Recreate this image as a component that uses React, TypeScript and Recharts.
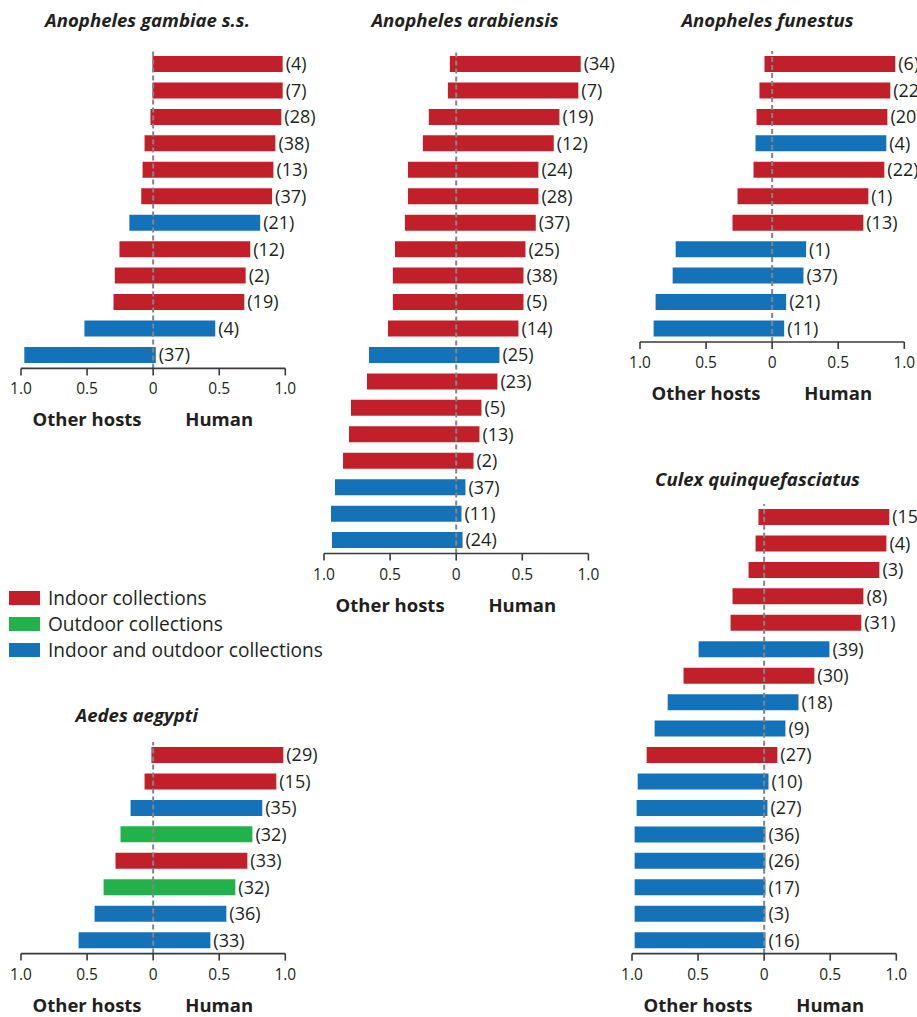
import React from 'react';
import { BarChart, Bar, XAxis, YAxis, Cell, LabelList, ReferenceLine, Label } from 'recharts';

const COLORS: Record<string, string> = { I: '#C1202A', O: '#22B24C', B: '#1472B9' };
const TEXT = '#231F20';
const FONT = '"Open Sans", "Noto Sans", sans-serif';

const AXIS_TICKS = [-1, -0.5, 0, 0.5, 1];

// Anopheles gambiae s.s.
const gambiaeHuman = [0.98, 0.98, 0.97, 0.925, 0.91, 0.9, 0.81, 0.735, 0.7, 0.69, 0.47, 0.02];
const gambiaeOther = [0.005, 0.005, 0.02, 0.065, 0.08, 0.09, 0.18, 0.255, 0.29, 0.3, 0.52, 0.975];
const gambiaeN = [4, 7, 28, 38, 13, 37, 21, 12, 2, 19, 4, 37];
const gambiaeType = ['I', 'I', 'I', 'I', 'I', 'I', 'B', 'I', 'I', 'I', 'B', 'B'];

// Anopheles arabiensis
const arabHuman = [0.942, 0.924, 0.781, 0.738, 0.622, 0.622, 0.602, 0.524, 0.509, 0.509, 0.471, 0.327, 0.312, 0.191, 0.176, 0.131, 0.07, 0.04, 0.048];
const arabOther = [0.048, 0.063, 0.207, 0.252, 0.365, 0.365, 0.388, 0.463, 0.479, 0.479, 0.516, 0.66, 0.675, 0.796, 0.811, 0.856, 0.917, 0.947, 0.94];
const arabN = [34, 7, 19, 12, 24, 28, 37, 25, 38, 5, 14, 25, 23, 5, 13, 2, 37, 11, 24];
const arabType = ['I', 'I', 'I', 'I', 'I', 'I', 'I', 'I', 'I', 'I', 'I', 'B', 'I', 'I', 'I', 'I', 'B', 'B', 'B'];

// Anopheles funestus
const funHuman = [0.932, 0.894, 0.872, 0.864, 0.849, 0.728, 0.69, 0.257, 0.237, 0.106, 0.091];
const funOther = [0.058, 0.096, 0.118, 0.126, 0.141, 0.262, 0.3, 0.73, 0.753, 0.882, 0.897];
const funN = [6, 22, 20, 4, 22, 1, 13, 1, 37, 21, 11];
const funType = ['I', 'I', 'I', 'B', 'I', 'I', 'I', 'B', 'B', 'B', 'B'];

// Culex quinquefasciatus
const culexHuman = [0.947, 0.925, 0.872, 0.751, 0.735, 0.494, 0.38, 0.26, 0.161, 0.1, 0.033, 0.025, 0.01, 0.01, 0.01, 0.01, 0.01];
const culexOther = [0.043, 0.065, 0.118, 0.239, 0.254, 0.496, 0.61, 0.73, 0.829, 0.889, 0.957, 0.965, 0.98, 0.98, 0.98, 0.98, 0.98];
const culexN = [15, 4, 3, 8, 31, 39, 30, 18, 9, 27, 10, 27, 36, 26, 17, 3, 16];
const culexType = ['I', 'I', 'I', 'I', 'I', 'B', 'I', 'B', 'B', 'I', 'B', 'B', 'B', 'B', 'B', 'B', 'B'];

// Aedes aegypti
const aedesHuman = [0.985, 0.932, 0.826, 0.751, 0.713, 0.622, 0.554, 0.433];
const aedesOther = [0.013, 0.065, 0.171, 0.247, 0.285, 0.375, 0.443, 0.564];
const aedesN = [29, 15, 35, 32, 33, 32, 36, 33];
const aedesType = ['I', 'I', 'B', 'O', 'I', 'O', 'B', 'B'];

const legendItems = [
  { key: 'I', label: 'Indoor collections' },
  { key: 'O', label: 'Outdoor collections' },
  { key: 'B', label: 'Indoor and outdoor collections' },
];

const STEP = 26.45;

const AxisTitles = (props: any) => {
  const vb = props.viewBox || {};
  const x = vb.x ?? 0;
  const y = vb.y ?? 0;
  const w = vb.width ?? 0;
  const style = { fontFamily: FONT, fontWeight: 700, fontSize: 18.5, fill: TEXT };
  return (
    <g>
      <text x={x + w * 0.25} y={y + 58} textAnchor="middle" style={style}>Other hosts</text>
      <text x={x + w * 0.75} y={y + 58} textAnchor="middle" style={style}>Human</text>
    </g>
  );
};

type PanelProps = {
  title: string;
  human: number[];
  other: number[];
  counts: number[];
  types: string[];
  axisLeft: number;
  axisRight: number;
  firstCenter: number;
  titleX: number;
  titleY: number;
};

function Panel({ title, human, other, counts, types, axisLeft, axisRight, firstCenter, titleX, titleY }: PanelProps) {
  const n = human.length;
  const plotTop = firstCenter - STEP / 2;
  const plotH = n * STEP;
  const mL = 20, mR = 48, mT = 10, axH = 72;
  const plotW = axisRight - axisLeft;
  const width = plotW + mL + mR;
  const height = plotH + mT + axH;
  const data = human.map((h, i) => ({ name: `r${i}`, range: [-other[i], h], n: counts[i], t: types[i] }));
  return (
    <>
      <div
        style={{
          position: 'absolute',
          left: titleX - 160,
          width: 320,
          top: titleY - 12,
          height: 24,
          lineHeight: '24px',
          textAlign: 'center',
          fontFamily: FONT,
          fontWeight: 700,
          fontStyle: 'italic',
          fontSize: 18.6,
          color: TEXT,
          whiteSpace: 'nowrap',
        }}
      >
        {title}
      </div>
      <div style={{ position: 'absolute', left: axisLeft - mL, top: plotTop - mT }}>
        <BarChart
          width={width}
          height={height}
          data={data}
          layout="vertical"
          margin={{ top: mT, right: mR, bottom: 0, left: mL }}
        >
          <XAxis
            type="number"
            domain={[-1, 1]}
            ticks={AXIS_TICKS}
            tickFormatter={(v: number) => (v === 0 ? '0' : Math.abs(v).toFixed(1))}
            height={axH}
            tickSize={7}
            tickMargin={8}
            stroke={TEXT}
            axisLine={{ stroke: '#3a3a3a', strokeWidth: 1.6 }}
            tickLine={{ stroke: '#3a3a3a', strokeWidth: 1.6 }}
            tick={{ fill: TEXT, fontSize: 15.5, fontFamily: FONT }}
            interval={0}
          >
            <Label content={AxisTitles} />
          </XAxis>
          <YAxis type="category" dataKey="name" hide />
          <Bar dataKey="range" barSize={16} isAnimationActive={false}>
            {data.map((d, i) => (
              <Cell key={i} fill={COLORS[d.t]} />
            ))}
            <LabelList
              dataKey="n"
              position="right"
              offset={3}
              formatter={(v: any) => `(${v})`}
              fill={TEXT}
              fontSize={18}
              fontFamily={FONT}
            />
          </Bar>
          <ReferenceLine x={0} stroke="#858585" strokeWidth={2} strokeDasharray="5 3" />
        </BarChart>
      </div>
    </>
  );
}

export default function App() {
  return (
    <div
      style={{
        position: 'absolute',
        left: 0,
        top: 0,
        width: 917,
        height: 1017,
        overflow: 'hidden',
        background: '#fff',
        fontFamily: FONT,
      }}
    >
      <Panel
        title="Anopheles gambiae s.s."
        human={gambiaeHuman}
        other={gambiaeOther}
        counts={gambiaeN}
        types={gambiaeType}
        axisLeft={20.7}
        axisRight={285}
        firstCenter={64}
        titleX={147.5}
        titleY={20}
      />
      <Panel
        title="Anopheles arabiensis"
        human={arabHuman}
        other={arabOther}
        counts={arabN}
        types={arabType}
        axisLeft={324.3}
        axisRight={588.7}
        firstCenter={64}
        titleX={465}
        titleY={20}
      />
      <Panel
        title="Anopheles funestus"
        human={funHuman}
        other={funOther}
        counts={funN}
        types={funType}
        axisLeft={639.7}
        axisRight={904}
        firstCenter={64}
        titleX={767.5}
        titleY={20}
      />
      <Panel
        title="Culex quinquefasciatus"
        human={culexHuman}
        other={culexOther}
        counts={culexN}
        types={culexType}
        axisLeft={631.7}
        axisRight={896}
        firstCenter={517}
        titleX={757.5}
        titleY={479}
      />
      <Panel
        title="Aedes aegypti"
        human={aedesHuman}
        other={aedesOther}
        counts={aedesN}
        types={aedesType}
        axisLeft={20.7}
        axisRight={285}
        firstCenter={755}
        titleX={136.7}
        titleY={714.5}
      />
      <div style={{ position: 'absolute', left: 9, top: 585 }}>
        {legendItems.map((it) => (
          <div key={it.key} style={{ display: 'flex', alignItems: 'center', height: 26 }}>
            <div style={{ width: 31, height: 14, background: COLORS[it.key] }} />
            <div
              style={{
                marginLeft: 8,
                fontFamily: FONT,
                fontSize: 19.1,
                color: TEXT,
                whiteSpace: 'nowrap',
                lineHeight: '26px',
              }}
            >
              {it.label}
            </div>
          </div>
        ))}
      </div>
    </div>
  );
}
